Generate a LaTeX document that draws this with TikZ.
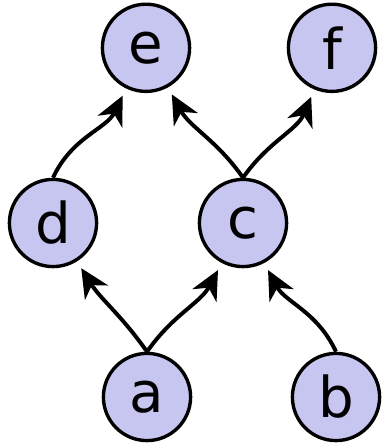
\documentclass[tikz,border=0pt]{standalone}
\usepackage{fontspec}
\setmainfont{DejaVu Sans}
\usetikzlibrary{arrows.meta}
\definecolor{vfill}{RGB}{198,198,240}
\begin{document}
\begin{tikzpicture}[
    vertex/.style={circle, draw=black, line width=2.4pt, fill=vfill,
        minimum size=2.18cm, inner sep=0pt, font=\fontsize{40}{48}\selectfont},
    edge/.style={line width=2.8pt,
        -{Stealth[length=0.72cm, width=0.68cm, inset=0.22cm]}, shorten >=0.2cm}
]
    \useasboundingbox (0,0) rectangle (9.625,11.175);

    % nodes
    \node[vertex] (e) at (3.65, 9.98) {e};
    \node[vertex] (f) at (8.30, 9.98) {f};
    \node[vertex] (d) at (1.325, 5.6) {d};
    \node[vertex] (c) at (6.075, 5.6) {c};
    \node[vertex] (a) at (3.675, 1.25) {a};
    \node[vertex] (b) at (8.4, 1.25) {b};

    % edges
    \draw[edge] (a.north) to[out=125, in=-58] (d);
    \draw[edge] (a.north) to[out=55, in=-118] (c);
    \draw[edge] (b.north) to[out=115, in=-62] (c);
    \draw[edge] (c.north) to[out=125, in=-61] (e);
    \draw[edge] (c.north) to[out=55, in=-113] (f);
    \draw[edge] (d.north) to[out=65, in=-116] (e);
\end{tikzpicture}
\end{document}
